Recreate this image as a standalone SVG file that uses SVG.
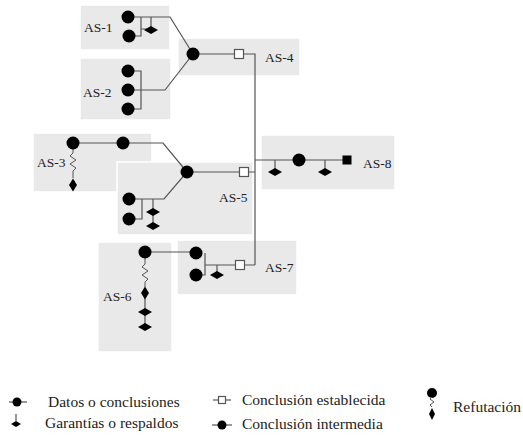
<svg xmlns="http://www.w3.org/2000/svg" xmlns:xlink="http://www.w3.org/1999/xlink" width="523" height="435" viewBox="0 0 523 435">
  <style>
    .box { fill: #e9e9e9; stroke: #ffffff; stroke-width: 1.5; }
    .ln { fill: none; stroke: #555555; stroke-width: 1.2; }
    .zz { fill: none; stroke: #555555; stroke-width: 1; }
    .lbl { font-family: "Liberation Serif", "Times New Roman", serif; font-size: 13.5px; fill: #222222; }
    .leg { font-family: "Liberation Serif", "Times New Roman", serif; font-size: 15.5px; fill: #222222; }
    .est { fill: #ffffff; stroke: #555555; stroke-width: 1.2; }
  </style>
  <defs>
    <circle id="dot" r="6.5" fill="#000"/>
    <path id="wd" d="M-7,0 L0,-4 L7,0 L0,4 Z" fill="#000"/>
    <path id="rd" d="M0,-6.5 L4,0 L0,6.5 L-4,0 Z" fill="#000"/>
    <rect id="sq" x="-4.5" y="-4.5" width="9" height="9" class="est"/>
  </defs>

  <!-- background panels of each argument -->
  <g id="AS-1">
    <rect class="box" x="80" y="5" width="90" height="45"/>
    <text class="lbl" x="84" y="32">AS-1</text>
  </g>
  <g id="AS-2">
    <rect class="box" x="80" y="58" width="91" height="62"/>
    <text class="lbl" x="83" y="97">AS-2</text>
  </g>
  <g id="AS-4">
    <rect class="box" x="178" y="38" width="122" height="38"/>
    <text class="lbl" x="265" y="62">AS-4</text>
  </g>
  <g id="AS-3">
    <rect class="box" x="33" y="133" width="119" height="59"/>
    <text class="lbl" x="37" y="167">AS-3</text>
  </g>
  <g id="AS-5">
    <rect class="box" x="117" y="162" width="136" height="73"/>
    <text class="lbl" x="219" y="202">AS-5</text>
  </g>
  <g id="AS-8">
    <rect class="box" x="261" y="135" width="134" height="55"/>
    <text class="lbl" x="363" y="168">AS-8</text>
  </g>
  <g id="AS-7">
    <rect class="box" x="177" y="240" width="120" height="55"/>
    <text class="lbl" x="265" y="272">AS-7</text>
  </g>
  <g id="AS-6">
    <rect class="box" x="98" y="242" width="74" height="110"/>
    <text class="lbl" x="103" y="301">AS-6</text>
  </g>

  <!-- connectors -->
  <g id="connectors">
    <!-- AS-1 -->
    <path class="ln" d="M128,17 H170 L193,54"/>
    <path class="ln" d="M129,36 H141 V17 M141,29 H151 M151,17 V29"/>
    <!-- AS-2 -->
    <path class="ln" d="M128,71 H141 V109 H128 M128,90 H165 L193,54"/>
    <!-- AS-4 to main trunk -->
    <path class="ln" d="M193,54 H239 M243,54 H255 V265"/>
    <!-- AS-3 -->
    <path class="ln" d="M73,143 H163 L187,172"/>
    <path class="zz" d="M73,149 v4 l-3,3 l6,4 l-6,4 l6,4 l-3,3 v7"/>
    <!-- AS-5 -->
    <path class="ln" d="M187,172 H240 M248,172 H255"/>
    <path class="ln" d="M129,199 H164 L187,172 M142,199 V219 H129 M153,199 V226"/>
    <!-- AS-8 -->
    <path class="ln" d="M255,160 H347 M275,160 V170 M325,160 V170"/>
    <!-- AS-6 / AS-7 -->
    <path class="ln" d="M145,252 H196 M196,275 H205 V253 M205,265 H236 M244,265 H255 M217,265 V273"/>
    <path class="zz" d="M145,258 v6 l-3,3 l6,4 l-6,4 l6,4 l-3,3 v5"/>
    <path class="ln" d="M145,293 V327"/>
  </g>

  <!-- argument symbols -->
  <g id="symbols">
    <use xlink:href="#dot" x="128" y="17"/>
    <use xlink:href="#dot" x="129" y="36"/>
    <use xlink:href="#wd" x="151" y="30"/>

    <use xlink:href="#dot" x="128" y="71"/>
    <use xlink:href="#dot" x="128" y="90"/>
    <use xlink:href="#dot" x="128" y="109"/>

    <use xlink:href="#dot" x="193" y="54"/>
    <use xlink:href="#sq" x="239" y="54"/>

    <use xlink:href="#dot" x="73" y="143"/>
    <use xlink:href="#dot" x="123" y="143"/>
    <use xlink:href="#rd" x="73" y="185"/>

    <use xlink:href="#dot" x="187" y="172"/>
    <use xlink:href="#sq" x="244" y="172"/>
    <use xlink:href="#dot" x="129" y="199"/>
    <use xlink:href="#dot" x="129" y="219"/>
    <use xlink:href="#wd" x="153" y="212"/>
    <use xlink:href="#wd" x="153" y="226"/>

    <use xlink:href="#wd" x="275" y="172"/>
    <use xlink:href="#dot" x="299" y="160"/>
    <use xlink:href="#wd" x="325" y="172"/>
    <rect x="342.5" y="155.5" width="9" height="9" fill="#000"/>

    <use xlink:href="#dot" x="145" y="252"/>
    <use xlink:href="#rd" x="145" y="293"/>
    <use xlink:href="#wd" x="145" y="312"/>
    <use xlink:href="#wd" x="145" y="327"/>

    <use xlink:href="#dot" x="196" y="253"/>
    <use xlink:href="#dot" x="196" y="275"/>
    <use xlink:href="#wd" x="217" y="275"/>
    <use xlink:href="#sq" x="240" y="265"/>
  </g>

  <!-- legend -->
  <g id="legend">
    <path class="ln" d="M9,402 H27"/>
    <circle cx="17" cy="402" r="4.5" fill="#000"/>
    <text class="leg" x="48" y="407">Datos o conclusiones</text>

    <path class="ln" d="M16,414 V421"/>
    <path d="M11,424 L16,421 L21,424 L16,427 Z" fill="#000"/>
    <text class="leg" x="45" y="428">Garantías o respaldos</text>

    <path class="ln" d="M213,400 H231"/>
    <rect x="218.5" y="396.5" width="7" height="7" class="est"/>
    <text class="leg" x="242" y="405">Conclusión establecida</text>

    <path class="ln" d="M212,425 H232"/>
    <circle cx="222" cy="425" r="4.5" fill="#000"/>
    <text class="leg" x="242" y="429">Conclusión intermedia</text>

    <circle cx="432" cy="393" r="5" fill="#000"/>
    <path class="zz" d="M432,397 l-2,2 l4,3 l-4,3 l2,2"/>
    <path d="M432,408 L435,414 L432,420 L429,414 Z" fill="#000"/>
    <text class="leg" x="453" y="412">Refutación</text>
  </g>
</svg>
